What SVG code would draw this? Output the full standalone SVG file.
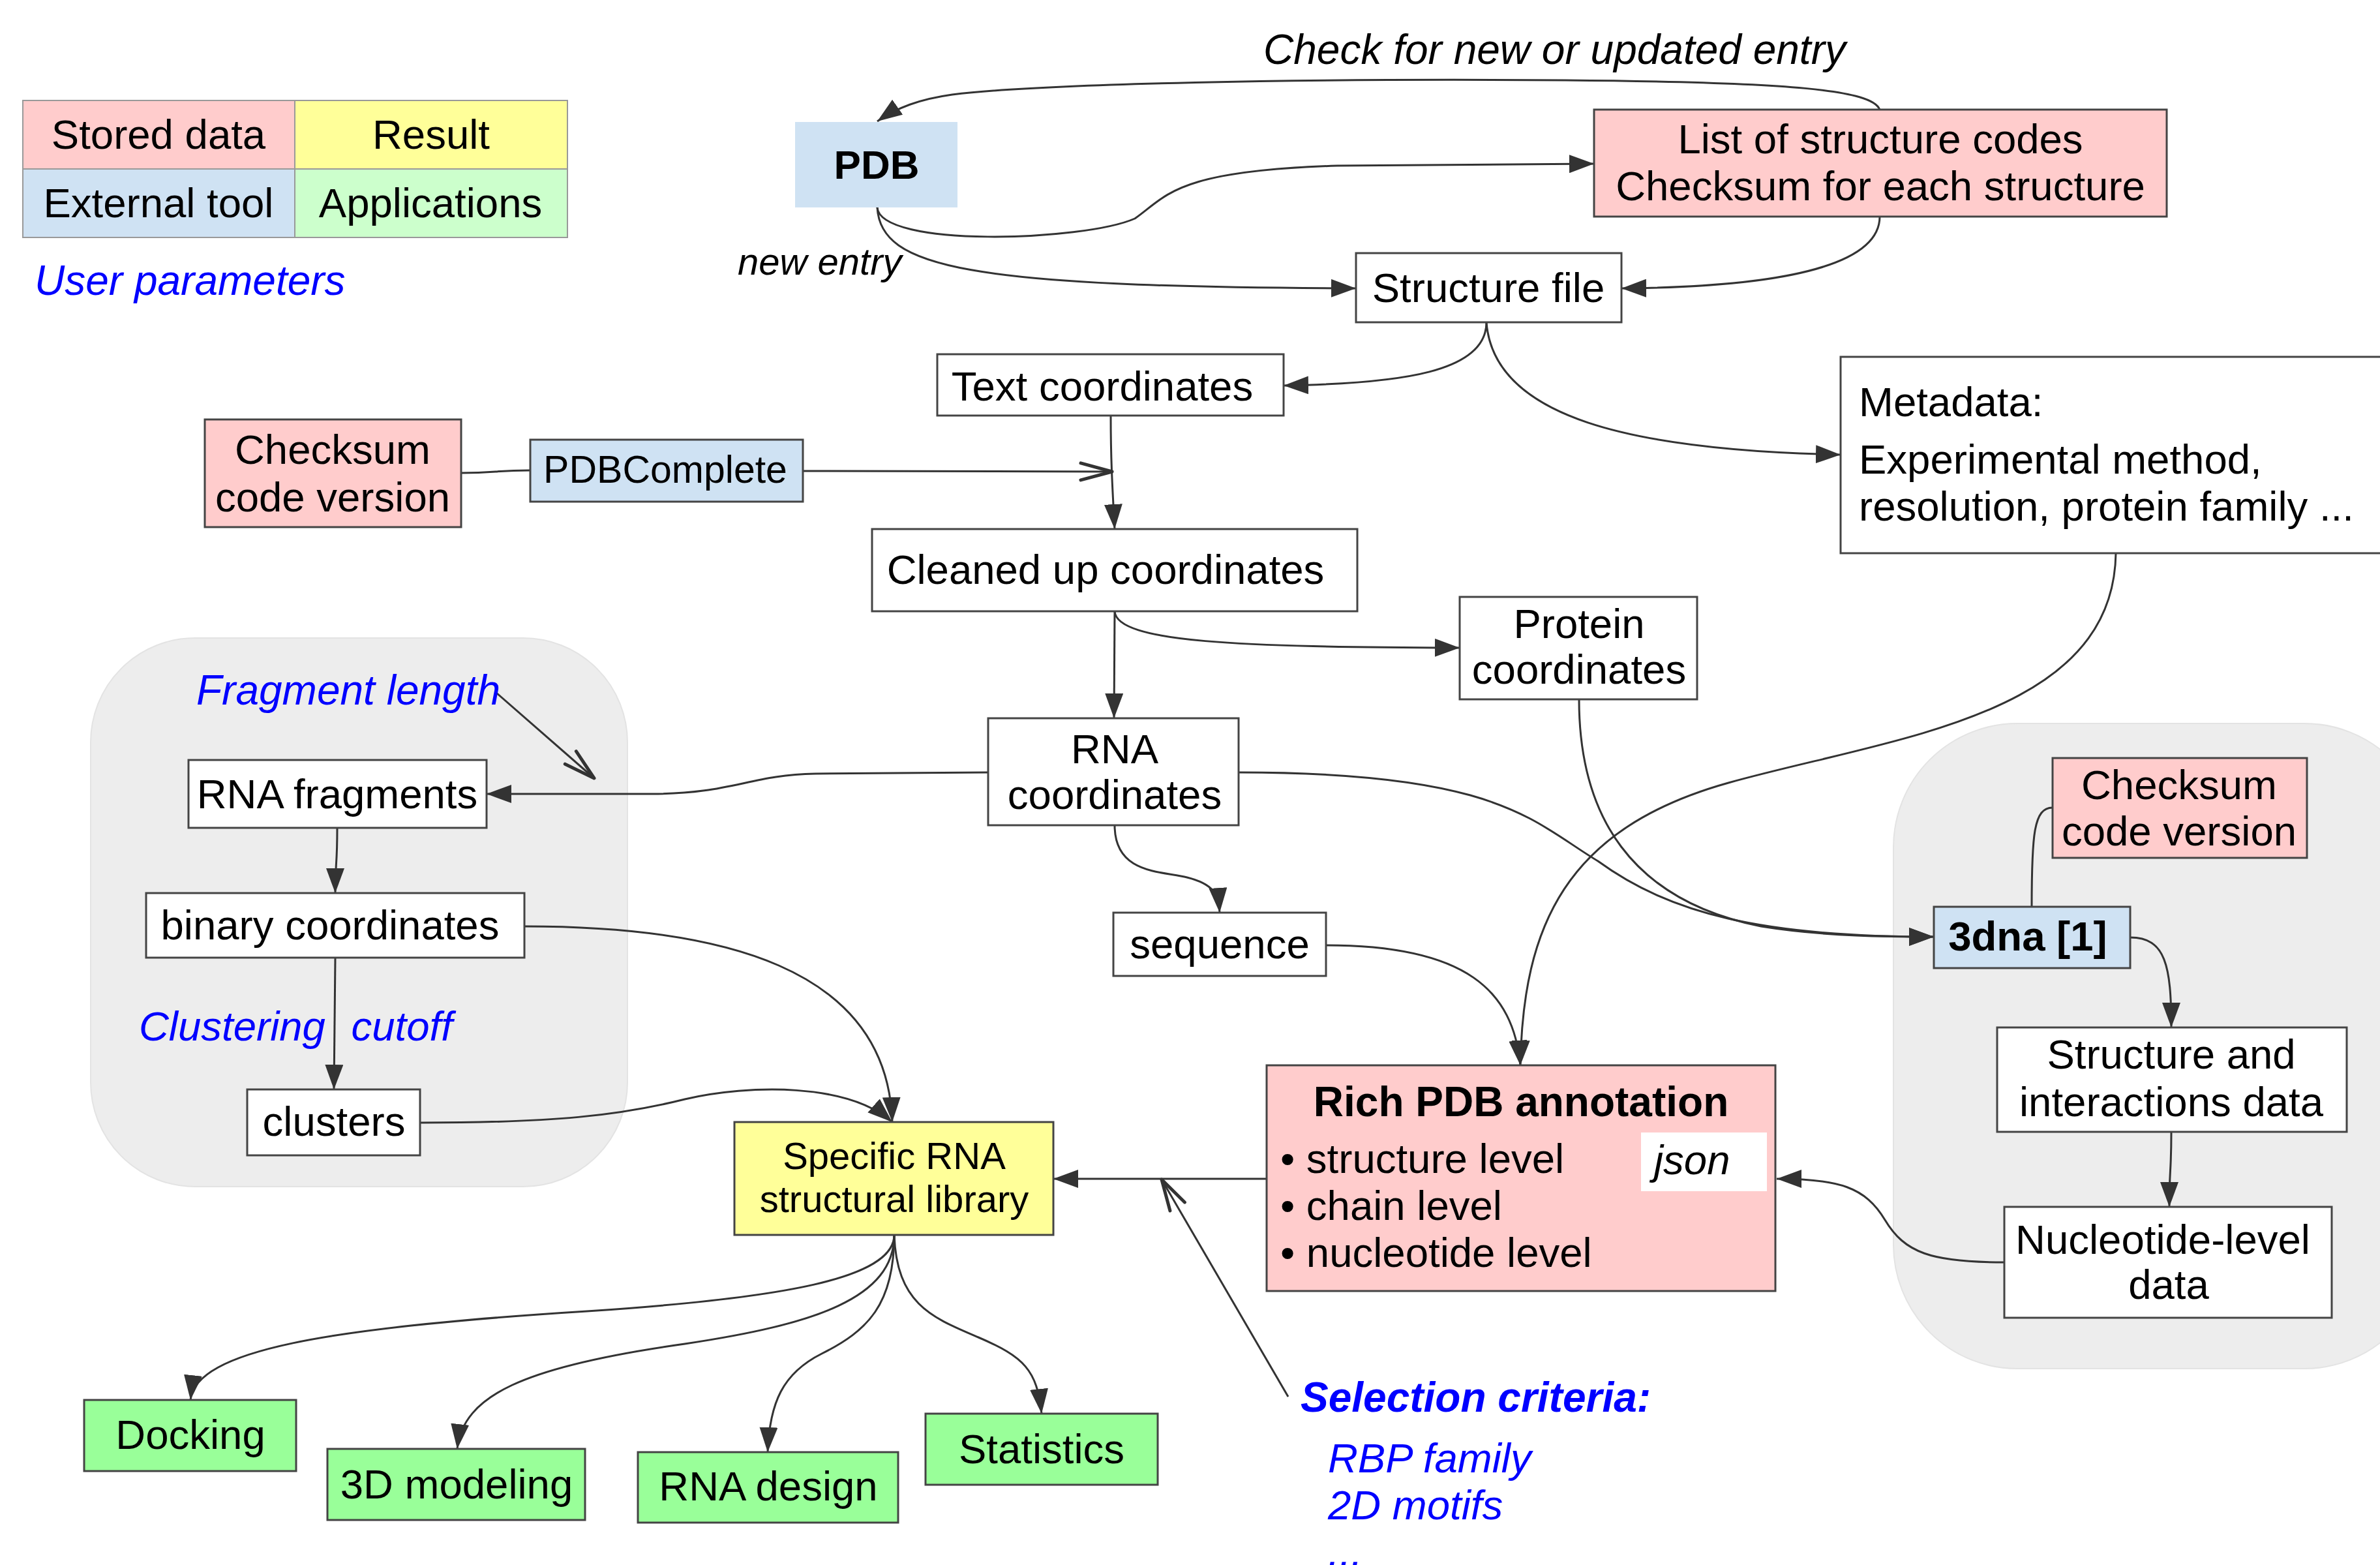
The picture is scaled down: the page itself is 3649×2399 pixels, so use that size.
<svg xmlns="http://www.w3.org/2000/svg" width="3649" height="2399" viewBox="0 0 3649 2399">
<style>
text{font-family:"Liberation Sans",Arial,sans-serif;font-size:63.5px;fill:#000}
.c{text-anchor:middle}
.i{font-style:italic}
.b{font-weight:bold}
.u{fill:#0000ff;font-style:italic}
.box{stroke:#444;stroke-width:3}
.pink{fill:#ffcccc}
.blue{fill:#cfe2f3}
.yel{fill:#ffff99}
.grn{fill:#99ff99}
.wht{fill:#ffffff}
.grp{fill:#ededed;stroke:#e3e3e3;stroke-width:2}
.leg{stroke:#999;stroke-width:2}
.e{fill:none;stroke:#333;stroke-width:3}
.ea{marker-end:url(#a)}
.eo{marker-end:url(#o)}
</style>
<defs>
<marker id="a" markerUnits="userSpaceOnUse" markerWidth="40" markerHeight="28" viewBox="0 0 40 28" refX="38" refY="14" orient="auto"><path d="M0,0 L38,14 L0,28 z" fill="#333"/></marker>
<marker id="o" markerUnits="userSpaceOnUse" markerWidth="60" markerHeight="34" viewBox="-4 -4 60 34" refX="48" refY="13" orient="auto" overflow="visible"><path d="M0,0 L48,13 L0,26" fill="none" stroke="#333" stroke-width="5" stroke-linecap="round" stroke-linejoin="round"/></marker>
</defs>
<rect width="3649" height="2399" fill="#ffffff"/>

<g id="group-left"><rect class="grp" x="139" y="978" width="823" height="841" rx="160" ry="160"/></g>
<g id="group-right"><rect class="grp" x="2903" y="1109" width="820" height="989" rx="190" ry="190"/></g>

<g id="legend">
<rect class="leg pink" x="35" y="154" width="417" height="105"/>
<rect class="leg yel" x="452" y="154" width="418" height="105"/>
<rect class="leg blue" x="35" y="259" width="417" height="105"/>
<rect class="leg" fill="#ccffcc" x="452" y="259" width="418" height="105"/>
<text class="c" x="243" y="228">Stored data</text>
<text class="c" x="661" y="228">Result</text>
<text class="c" x="243" y="333">External tool</text>
<text class="c" x="660" y="333">Applications</text>
<text class="u" x="53" y="452" style="font-size:64px">User parameters</text>
</g>

<g id="connectors">
<path class="e ea" d="M2882,168 C2870,138 2750,126 2400,123 C2000,120 1600,128 1460,145 C1410,152 1375,165 1345,186"/>
<path class="e ea" d="M1345,318 C1350,380 1660,370 1740,335 C1790,300 1800,262 2050,254 L2444,251"/>
<path class="e ea" d="M1345,318 C1350,410 1480,440 2079,442"/>
<path class="e ea" d="M2882,332 C2882,410 2720,440 2486,442"/>
<path class="e ea" d="M2279,494 C2279,570 2150,588 1968,591"/>
<path class="e ea" d="M2279,494 C2290,640 2500,690 2822,697"/>
<path class="e" d="M707,725 C760,725 760,721 813,721"/>
<path class="e eo" d="M1231,722 L1705,723"/>
<path class="e ea" d="M1703,637 C1703,700 1705,740 1709,811"/>
<path class="e ea" d="M1709,937 L1708,1101"/>
<path class="e ea" d="M1709,937 C1712,985 1900,992 2238,993"/>
<path class="e ea" d="M1515,1184 L1250,1186 C1150,1188 1120,1217 1000,1217 L746,1217"/>
<path class="e eo" d="M761,1062 L911,1193"/>
<path class="e ea" d="M517,1269 C517,1330 514,1320 514,1369"/>
<path class="e ea" d="M514,1468 L512,1670"/>
<path class="e ea" d="M644,1721 C850,1721 950,1710 1050,1685 C1150,1662 1300,1660 1368,1720"/>
<path class="e ea" d="M804,1420 C1100,1420 1360,1480 1368,1720"/>
<path class="e ea" d="M1709,1265 C1709,1340 1780,1335 1820,1345 C1860,1355 1868,1370 1870,1399"/>
<path class="e ea" d="M2033,1449 C2250,1449 2320,1520 2331,1633"/>
<path class="e ea" d="M3244,848 C3240,1100 2900,1130 2650,1200 C2400,1270 2335,1420 2331,1633"/>
<path class="e ea" d="M1899,1184 C2300,1184 2350,1260 2450,1320 C2560,1400 2700,1436 2965,1436"/>
<path class="e ea" d="M2421,1072 C2421,1250 2500,1380 2700,1420 C2800,1436 2900,1436 2965,1436"/>
<path class="e" d="M3115,1390 C3115,1280 3118,1238 3147,1238"/>
<path class="e ea" d="M3266,1437 C3320,1437 3329,1480 3329,1575"/>
<path class="e ea" d="M3329,1735 C3329,1800 3326,1790 3326,1850"/>
<path class="e ea" d="M3073,1935 C2960,1935 2920,1920 2890,1870 C2860,1820 2820,1807 2724,1807"/>
<path class="e ea" d="M1942,1807 L1615,1807"/>
<path class="e eo" d="M1975,2141 L1781,1808"/>
<path class="e ea" d="M1371,1893 C1371,1960 1200,1990 900,2010 C500,2035 300,2070 292,2146"/>
<path class="e ea" d="M1371,1893 C1371,1990 1250,2030 1050,2060 C800,2095 710,2140 701,2221"/>
<path class="e ea" d="M1371,1893 C1371,2000 1330,2040 1260,2075 C1200,2105 1180,2150 1177,2226"/>
<path class="e ea" d="M1371,1893 C1375,2000 1430,2020 1500,2050 C1570,2080 1590,2100 1597,2167"/>
</g>

<text class="i" x="1937" y="98" style="font-size:64px">Check for new or updated entry</text>
<text class="i" x="1131" y="421" style="font-size:58px">new entry</text>

<g id="pdb"><rect class="blue" x="1219" y="187" width="249" height="131"/><text class="c b" x="1344" y="274" style="font-size:62px">PDB</text></g>
<g id="list"><rect class="box pink" x="2444" y="168" width="878" height="164"/><text class="c" x="2883" y="235">List of structure codes</text><text class="c" x="2883" y="307">Checksum for each structure</text></g>
<g id="structure-file"><rect class="box wht" x="2079" y="388" width="407" height="106"/><text class="c" x="2282" y="463">Structure file</text></g>
<g id="text-coords"><rect class="box wht" x="1437" y="543" width="531" height="94"/><text class="c" x="1690" y="614">Text coordinates</text></g>
<g id="metadata"><rect class="box wht" x="2822" y="547" width="900" height="301"/><text x="2850" y="638">Metadata:</text><text x="2850" y="726">Experimental method,</text><text x="2850" y="798">resolution, protein family ...</text></g>
<g id="checksum1"><rect class="box pink" x="314" y="643" width="393" height="165"/><text class="c" x="510" y="711">Checksum</text><text class="c" x="510" y="784">code version</text></g>
<g id="pdbcomplete"><rect class="box blue" x="813" y="674" width="418" height="95"/><text class="c" x="1020" y="740" style="font-size:59px">PDBComplete</text></g>
<g id="cleaned"><rect class="box wht" x="1337" y="811" width="744" height="126"/><text class="c" x="1695" y="895">Cleaned up coordinates</text></g>
<g id="protein"><rect class="box wht" x="2238" y="915" width="364" height="157"/><text class="c" x="2421" y="978">Protein</text><text class="c" x="2421" y="1048">coordinates</text></g>
<g id="rna-coords"><rect class="box wht" x="1515" y="1101" width="384" height="164"/><text class="c" x="1709" y="1170">RNA</text><text class="c" x="1709" y="1240">coordinates</text></g>
<g id="fragment-length"><text class="u" x="301" y="1080" style="font-size:64px">Fragment length</text></g>
<g id="rna-fragments"><rect class="box wht" x="289" y="1165" width="457" height="104"/><text class="c" x="517" y="1239">RNA fragments</text></g>
<g id="binary"><rect class="box wht" x="224" y="1369" width="580" height="99"/><text class="c" x="506" y="1440">binary coordinates</text></g>
<g id="clustering-cutoff"><text class="u" x="213" y="1595" word-spacing="22">Clustering cutoff</text></g>
<g id="clusters"><rect class="box wht" x="379" y="1670" width="265" height="101"/><text class="c" x="512" y="1741">clusters</text></g>
<g id="sequence"><rect class="box wht" x="1707" y="1399" width="326" height="97"/><text class="c" x="1870" y="1469">sequence</text></g>
<g id="rich-pdb"><rect class="box pink" x="1942" y="1633" width="780" height="346"/>
<text class="c b" x="2332" y="1711" style="font-size:64px">Rich PDB annotation</text>
<text x="1963" y="1798">• structure level</text><text x="1963" y="1870">• chain level</text><text x="1963" y="1942">• nucleotide level</text>
<rect class="wht" x="2516" y="1736" width="193" height="90"/><text class="i" x="2536" y="1800">json</text></g>
<g id="specific"><rect class="box yel" x="1126" y="1720" width="489" height="173"/><text class="c" x="1371" y="1792" style="font-size:58px">Specific RNA</text><text class="c" x="1371" y="1858" style="font-size:58px">structural library</text></g>
<g id="dna3"><rect class="box blue" x="2965" y="1390" width="301" height="94"/><text class="c b" x="3109" y="1457">3dna [1]</text></g>
<g id="checksum2"><rect class="box pink" x="3147" y="1162" width="390" height="153"/><text class="c" x="3341" y="1225">Checksum</text><text class="c" x="3341" y="1296">code version</text></g>
<g id="struct-inter"><rect class="box wht" x="3062" y="1575" width="536" height="160"/><text class="c" x="3329" y="1638">Structure and</text><text class="c" x="3329" y="1711">interactions data</text></g>
<g id="nucleotide"><rect class="box wht" x="3073" y="1850" width="502" height="170"/><text class="c" x="3316" y="1922">Nucleotide-level</text><text class="c" x="3325" y="1991">data</text></g>
<g id="docking"><rect class="box grn" x="129" y="2146" width="325" height="109"/><text class="c" x="292" y="2221">Docking</text></g>
<g id="modeling"><rect class="box grn" x="502" y="2221" width="395" height="109"/><text class="c" x="700" y="2297">3D modeling</text></g>
<g id="design"><rect class="box grn" x="978" y="2226" width="399" height="108"/><text class="c" x="1178" y="2300">RNA design</text></g>
<g id="statistics"><rect class="box grn" x="1419" y="2167" width="356" height="109"/><text class="c" x="1597" y="2243">Statistics</text></g>
<g id="selection"><text class="u b" x="1994" y="2164" style="font-size:64px">Selection criteria:</text>
<text class="u" x="2036" y="2257">RBP family</text><text class="u" x="2036" y="2329">2D motifs</text><text class="u" x="2036" y="2401">...</text></g>
</svg>
